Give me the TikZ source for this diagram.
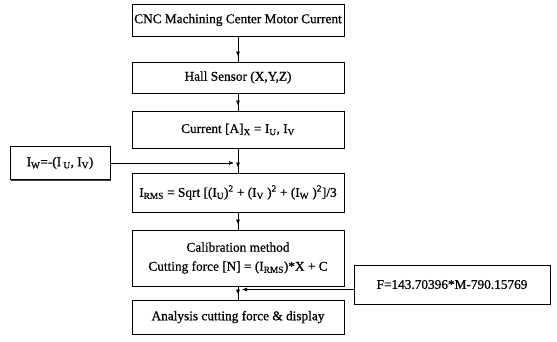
\documentclass[tikz,border=0pt]{standalone}
\usepackage{fontspec}
\setmainfont[UprightFeatures={FakeBold=0.7}]{Liberation Serif}
\usetikzlibrary{arrows.meta,shadows,decorations.markings}
\begin{document}
\begin{tikzpicture}[x=1pt,y=-1pt,
  box/.style={draw=black, line width=0.8pt, fill=white, inner sep=0pt, align=center,
    font=\fontsize{13.3}{19}\selectfont,
    drop shadow={shadow xshift=1.4pt, shadow yshift=-1.4pt, fill=black!75, opacity=1}},
  mainbox/.style={box, minimum width=212pt},
  flow/.style={draw=black, line width=0.6pt, postaction={decorate},
    decoration={markings, mark=at position -5pt with {\arrow{Latex[length=5pt,width=4pt]}}}},
  feed/.style={draw=black, line width=0.6pt, -{Latex[length=5pt,width=4pt]}}
]
\useasboundingbox (0,0) rectangle (557,341);

% main chain
\node[mainbox, minimum height=32pt] (b1) at (238,20) {CNC Machining Center Motor Current};
\node[mainbox, minimum height=31pt] (b2) at (238,77.5) {Hall Sensor (X,Y,Z)};
\node[mainbox, minimum height=37pt] (b3) at (238,129.5) {Current [A]\textsubscript{X} = I\textsubscript{U}, I\textsubscript{V}};
\node[mainbox, minimum height=39pt] (b4) at (238,192.5) {I\textsubscript{RMS} = Sqrt [(I\textsubscript{U})\textsuperscript{2} + (I\textsubscript{V} )\textsuperscript{2} + (I\textsubscript{W} )\textsuperscript{2}]/3};
\node[mainbox, minimum height=56pt] (b5) at (238,258) {Calibration method\\Cutting force [N] = (I\textsubscript{RMS})*X + C};
\node[mainbox, minimum height=34pt] (b6) at (238,317) {Analysis cutting force \& display};

% side inputs
\node[box, minimum width=100pt, minimum height=33pt] (iw) at (60,163) {I\textsubscript{W}=-(I\,\textsubscript{U}, I\textsubscript{V})};
\node[box, minimum width=196pt, minimum height=39pt] (fx) at (452,284.5) {F=143.70396*M-790.15769};

% connectors
\draw[flow] (b1.south) -- (b2.north);
\draw[flow] (b2.south) -- (b3.north);
\draw[flow] (b3.south) -- (b4.north);
\draw[flow] (b4.south) -- (b5.north);
\draw[flow] (b5.south) -- (b6.north);

\draw[feed] (iw.east) -- ([xshift=-4pt]b3.south |- iw.east);
\coordinate (fa) at ([yshift=-5pt]fx.west);
\draw[feed] (fa) -- ([xshift=4pt]b5.south |- fa);
\end{tikzpicture}
\end{document}
